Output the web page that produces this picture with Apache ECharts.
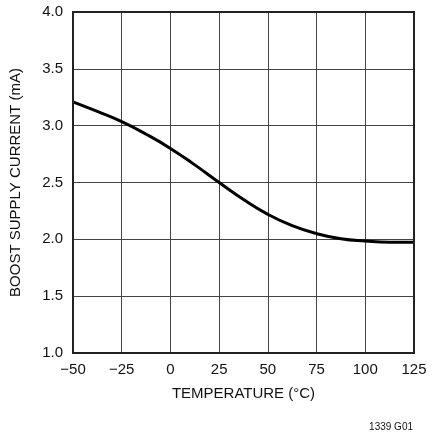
<!DOCTYPE html>
<html>
<head>
<meta charset="utf-8">
<script src="https://cdn.jsdelivr.net/npm/echarts@6/dist/echarts.min.js"></script>
<style>
html, body { margin: 0; padding: 0; background: #fff; }
#main { width: 435px; height: 444px; }
</style>
</head>
<body>
<div id="main"></div>
<script>
// temperature (°C) vs boost supply current (mA)
var temps = [-50, -37.5, -25, -12.5, 0, 12.5, 25, 37.5, 50, 62.5, 75, 87.5, 100, 112.5, 125];
var current = [3.21, 3.125, 3.035, 2.925, 2.80, 2.655, 2.50, 2.35, 2.22, 2.12, 2.05, 2.005, 1.985, 1.975, 1.975];
var xLabels = ['\u221250', '\u221225', '0', '25', '50', '75', '100', '125'];

var fontFam = '"Liberation Sans", Arial, sans-serif';

var chart = echarts.init(document.getElementById('main'));

var pts = [];
for (var i = 0; i < temps.length; i++) {
	pts.push([temps[i], current[i]]);
}

var option = {
	animation: false,
	grid: { left: 73, top: 12, width: 341, height: 341 },
	xAxis: {
		type: 'value',
		min: -50,
		max: 125,
		interval: 25,
		name: 'TEMPERATURE (\u00b0C)',
		nameLocation: 'middle',
		nameGap: 33,
		nameTextStyle: { fontFamily: fontFam, fontSize: 15, color: '#111' },
		axisLine: { show: true, onZero: false, lineStyle: { color: '#222', width: 2 } },
		axisTick: { show: false },
		splitLine: { show: true, lineStyle: { color: '#444', width: 1 } },
		axisLabel: {
			fontFamily: fontFam, fontSize: 15, color: '#111', margin: 9,
			formatter: function (v) { return xLabels[Math.round((v + 50) / 25)]; }
		}
	},
	yAxis: {
		type: 'value',
		min: 1,
		max: 4,
		interval: 0.5,
		name: 'BOOST SUPPLY CURRENT (mA)',
		nameLocation: 'middle',
		nameGap: 50,
		nameTextStyle: { fontFamily: fontFam, fontSize: 15, color: '#111' },
		axisLine: { show: true, onZero: false, lineStyle: { color: '#222', width: 2 } },
		axisTick: { show: false },
		splitLine: { show: true, lineStyle: { color: '#444', width: 1 } },
		axisLabel: {
			fontFamily: fontFam, fontSize: 15, color: '#111', margin: 10,
			formatter: function (v) { return v.toFixed(1); }
		}
	},
	graphic: [
		// right and top frame
		{ type: 'rect', shape: { x: 73, y: 12, width: 341, height: 341 }, style: { fill: 'none', stroke: '#222', lineWidth: 2 }, z: 10 },
		{ type: 'text', right: 22, top: 422, style: { text: '1339 G01', fontFamily: fontFam, fontSize: 10, fill: '#111' } }
	],
	series: [{
		type: 'line',
		data: pts,
		smooth: 0.5,
		showSymbol: false,
		lineStyle: { color: '#000', width: 3 }
	}]
};

chart.setOption(option);
</script>
</body>
</html>
